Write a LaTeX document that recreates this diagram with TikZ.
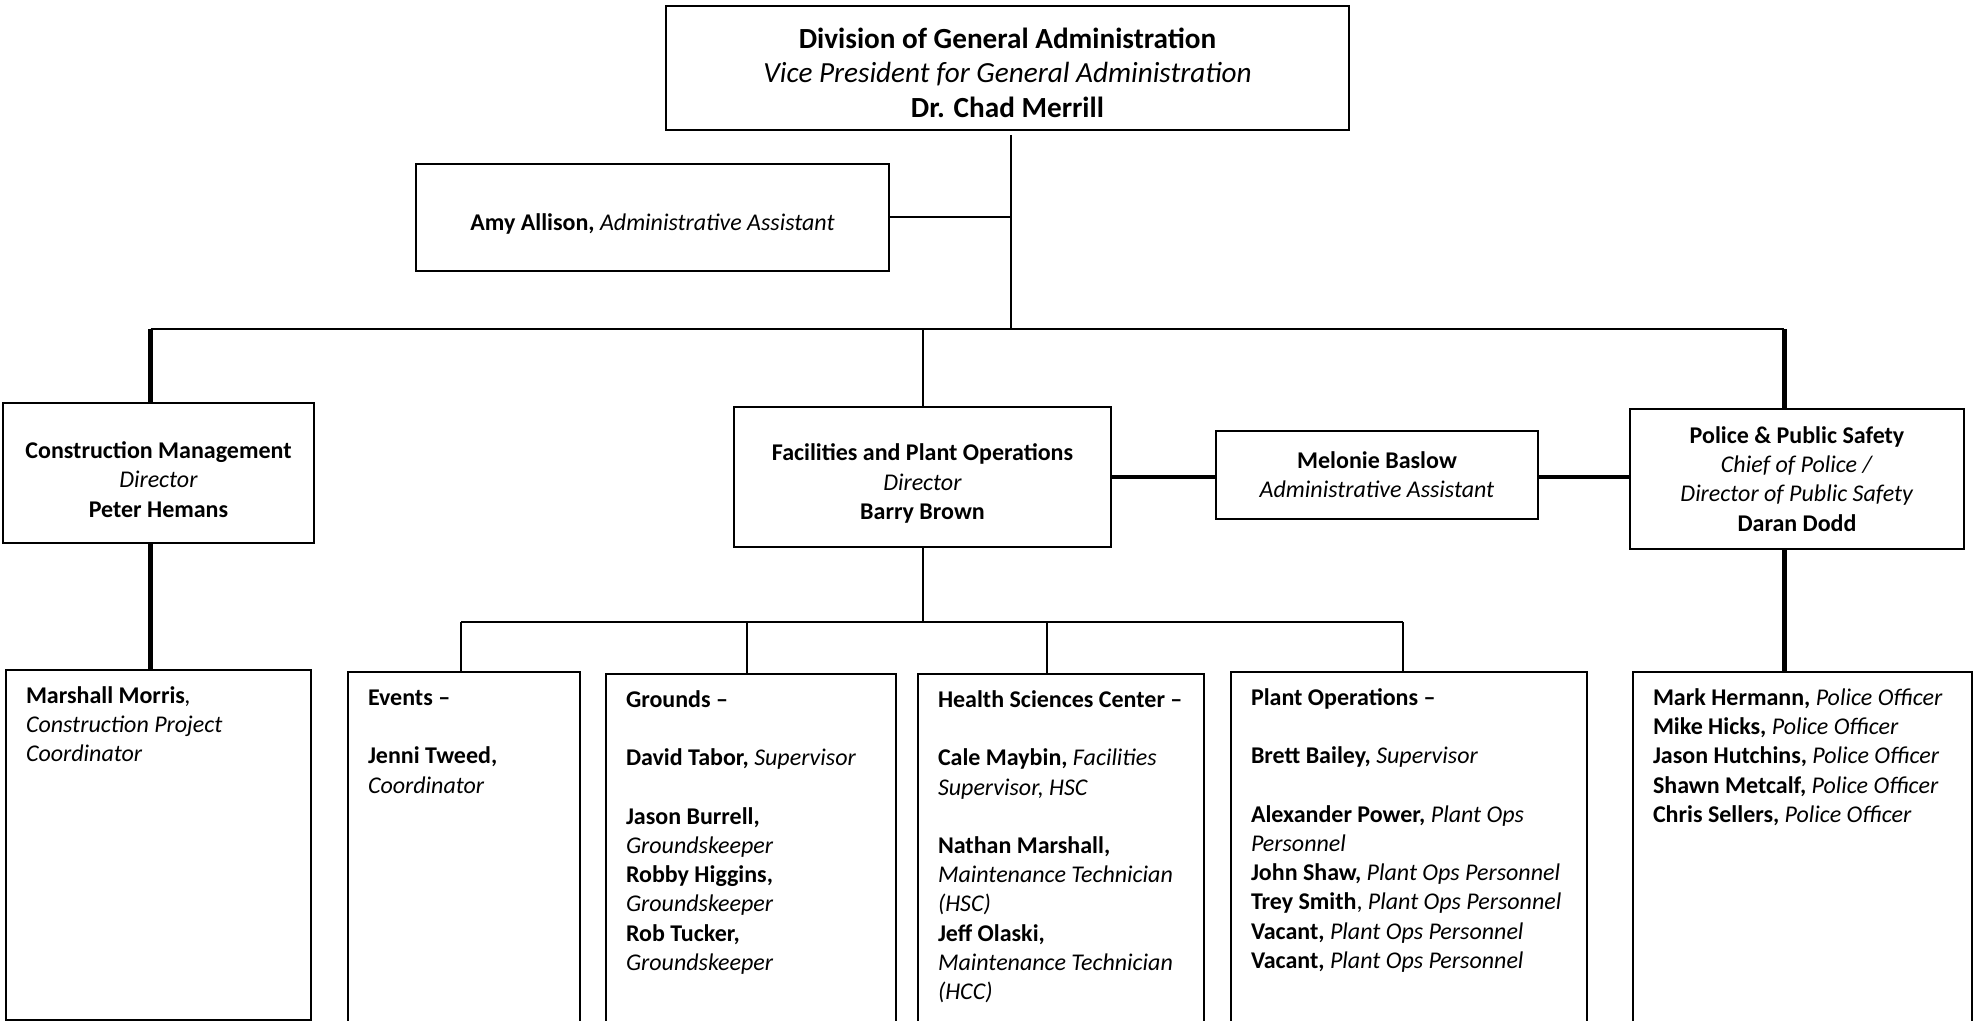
\documentclass[tikz,border=0pt]{standalone}
\usepackage{fontspec}
\setmainfont{Carlito}

\newcommand{\bodyfont}{\fontsize{12}{14.6}\selectfont}
\newcommand{\headfont}{\fontsize{14.6}{17.3}\selectfont}
% pushes a centred label a little lower in its box
\newcommand{\topgap}{\rule{0pt}{15pt}}
% top-aligned staff list inside a fixed box
\newcommand{\staffbox}[3]{\parbox[c][#1][t]{#2}{\raggedright\leftskip=10pt\rule{0pt}{16.7pt}#3}}

\tikzset{
  unit/.style={draw, line width=1pt, align=center, font=\bodyfont, inner sep=0pt},
  staff/.style={draw, line width=1pt, anchor=north west, inner sep=0pt, font=\bodyfont},
  link/.style={line width=1pt},
  trunk/.style={line width=2.5pt},
  sidelink/.style={line width=1.7pt}
}

\begin{document}
\begin{tikzpicture}[x=1pt, y=-1pt]

  % page frame
  \clip (0,0) rectangle (989,510.5);
  \fill[white] (0,0) rectangle (989,510.5);

  % top of the division
  \node[unit, font=\headfont, minimum width=341.5pt, minimum height=62pt] (div) at (503.75,34)
    {\topgap\textbf{Division of General Administration}\\
     \textit{Vice President for General Administration}\\
     \textbf{Dr. Chad Merrill}};
  \node[unit, minimum width=236.5pt, minimum height=53.5pt] (amy) at (326.25,108.75)
    {\topgap\textbf{Amy Allison,} \textit{Administrative Assistant}};

  % department heads
  \node[unit, minimum width=155.5pt, minimum height=70pt] (cm) at (79.25,236.5)
    {\topgap\textbf{Construction Management}\\ \textit{Director}\\ \textbf{Peter Hemans}};
  \node[unit, minimum width=188.5pt, minimum height=70pt] (fpo) at (461.25,238.5)
    {\topgap\textbf{Facilities and Plant Operations}\\ \textit{Director}\\ \textbf{Barry Brown}};
  \node[unit, minimum width=161pt, minimum height=44pt] (mel) at (688.5,237.5)
    {\textbf{Melonie Baslow}\\ \textit{Administrative Assistant}};
  \node[unit, minimum width=167pt, minimum height=70pt] (pps) at (898.5,239.5)
    {\textbf{Police \& Public Safety}\\ \textit{Chief of Police /}\\
     \textit{Director of Public Safety}\\ \textbf{Daran Dodd}};

  % staff lists
  \node[staff] (mm) at (2.5,334.5) {\staffbox{175pt}{152.5pt}{%
    \textbf{Marshall Morris}\textit{,}\\ \textit{Construction Project}\\ \textit{Coordinator}}};
  \node[staff] (ev) at (173.5,335.5) {\staffbox{180pt}{116pt}{%
    \textbf{Events --}\\[14.6pt]
    \textbf{Jenni Tweed,}\\ \textit{Coordinator}}};
  \node[staff] (gr) at (302.5,336.5) {\staffbox{180pt}{145pt}{%
    \textbf{Grounds --}\\[14.6pt]
    \textbf{David Tabor,} \textit{Supervisor}\\[14.6pt]
    \textbf{Jason Burrell,}\\ \textit{Groundskeeper}\\
    \textbf{Robby Higgins,}\\ \textit{Groundskeeper}\\
    \textbf{Rob Tucker,}\\ \textit{Groundskeeper}}};
  \node[staff] (hsc) at (458.5,336.5) {\staffbox{180pt}{143pt}{%
    \textbf{Health Sciences Center --}\\[14.6pt]
    \textbf{Cale Maybin,} \textit{Facilities}\\ \textit{Supervisor, HSC}\\[14.6pt]
    \textbf{Nathan Marshall,}\\ \textit{Maintenance Technician}\\ \textit{(HSC)}\\
    \textbf{Jeff Olaski,}\\ \textit{Maintenance Technician}\\ \textit{(HCC)}}};
  \node[staff] (po) at (615,335.5) {\staffbox{180pt}{178pt}{%
    \textbf{Plant Operations --}\\[14.6pt]
    \textbf{Brett Bailey,} \textit{Supervisor}\\[14.6pt]
    \textbf{Alexander Power,} \textit{Plant Ops}\\ \textit{Personnel}\\
    \textbf{John Shaw,} \textit{Plant Ops Personnel}\\
    \textbf{Trey Smith}, \textit{Plant Ops Personnel}\\
    \textbf{Vacant,} \textit{Plant Ops Personnel}\\
    \textbf{Vacant,} \textit{Plant Ops Personnel}}};
  \node[staff] (pol) at (816,335.5) {\staffbox{180pt}{169.5pt}{%
    \textbf{Mark Hermann,} \textit{Police Officer}\\
    \textbf{Mike Hicks,} \textit{Police Officer}\\
    \textbf{Jason Hutchins,} \textit{Police Officer}\\
    \textbf{Shawn Metcalf,} \textit{Police Officer}\\
    \textbf{Chris Sellers,} \textit{Police Officer}}};

  % bus lines
  \coordinate (busL) at (75.25,164.5);
  \coordinate (busV) at (505.5,164.5);
  \coordinate (busR) at (892,164.5);
  \coordinate (subL) at (230.5,311);
  \coordinate (subG) at (373.5,311);
  \coordinate (subH) at (523.5,311);
  \coordinate (subR) at (701.5,311);

  \draw[link, shorten <=2pt] (div.south -| busV) -- (busV);
  \draw[link] (amy.east) -- (amy.east -| busV);
  \draw[link] (busL) -- (busR);
  \draw[trunk] (busL) -- (busL |- cm.north);
  \draw[trunk] (busL |- cm.south) -- (busL |- mm.north);
  \draw[link] (busV -| fpo.north) -- (fpo.north);
  \draw[trunk] (busR) -- (busR |- pps.north);
  \draw[trunk] (busR |- pps.south) -- (busR |- pol.north);
  \draw[sidelink] (fpo.east) -- (fpo.east -| mel.west);
  \draw[sidelink] (fpo.east -| mel.east) -- (fpo.east -| pps.west);

  % facilities branches
  \draw[link] (fpo.south) -- (fpo.south |- subL);
  \draw[link] (subL) -- (subR);
  \draw[link] (subL) -- (subL |- ev.north);
  \draw[link] (subG) -- (subG |- gr.north);
  \draw[link] (subH) -- (subH |- hsc.north);
  \draw[link] (subR) -- (subR |- po.north);

\end{tikzpicture}
\end{document}
